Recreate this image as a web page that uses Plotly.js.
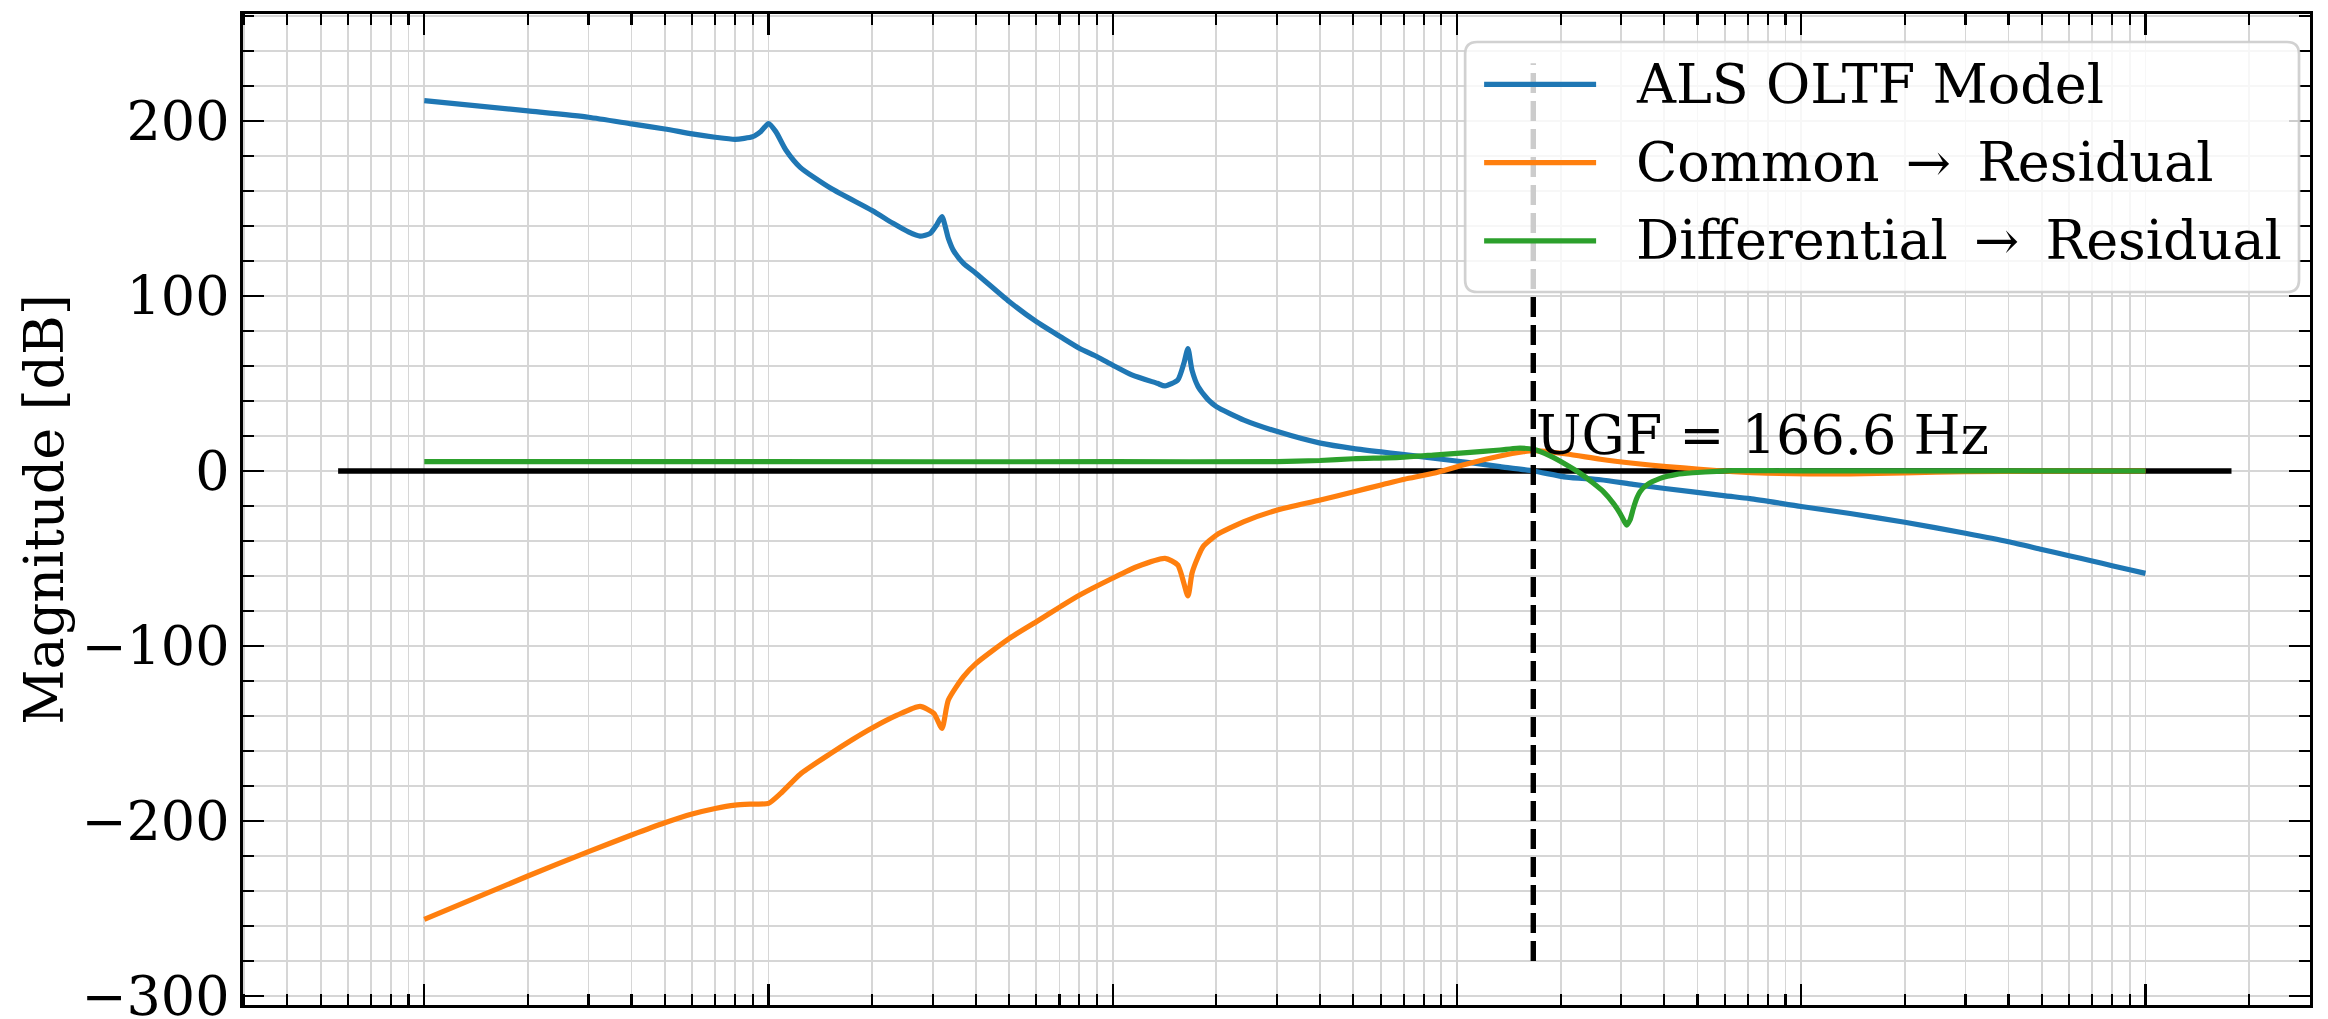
<!DOCTYPE html>
<html>
<head>
<meta charset="utf-8">
<script src="https://cdn.plot.ly/plotly-3.0.1.min.js"></script>
<style>html,body{margin:0;padding:0;background:#fff;} #chart{width:2328px;height:1019px;}</style>
</head>
<body>
<div id="chart"></div>
<script>
// ---------------- data ----------------
const seriesNames = ["ALS OLTF Model", "Common\u2006 \u2192 \u2006Residual", "Differential\u2006 \u2192 \u2006Residual"];

const oltfFreq = [0.1, 0.2, 0.3, 0.4, 0.5, 0.6, 0.7, 0.8, 0.9, 0.95, 1.0, 1.05, 1.123, 1.236, 1.517,
  2.0, 2.3, 2.55, 2.756, 2.95, 3.08, 3.19, 3.33, 3.44, 3.685, 4.01, 5.01, 6.0, 7.05, 8.02, 9.01, 9.98,
  11.36, 13.46, 14.18, 15.45, 16.09, 16.54, 16.99, 17.7, 18.95, 20.0, 24.06, 30.1, 40.1, 50.2,
  60.2, 68.3, 85.4, 106.8, 133.4, 166.6, 208, 261, 325, 402, 603, 710, 1000, 1387, 2000, 3000,
  4000, 5000, 6000, 7000, 8000, 9000, 10000];
const oltfDb = [211.6, 205.7, 202.1, 198.3, 195.4, 192.6, 190.7, 189.5, 191.0, 194.0, 198.5, 193.9, 183.4, 173.5, 161.5,
  148.8, 141.5, 136.6, 134.2, 135.8, 140.6, 145.3, 132.9, 126.2, 118.6, 112.9, 96.7, 85.3, 76.7, 70.0, 65.3, 60.6,
  54.9, 50.1, 48.6, 52.0, 61.5, 70.0, 57.6, 48.2, 40.6, 36.8, 29.1, 22.5, 15.9, 12.8,
  10.9, 9.7, 7.3, 5.0, 2.5, 0.0, -3.5, -5.0, -7.6, -10.0, -14.2, -15.8, -20.3, -24.3, -29.3, -35.6,
  -40.4, -44.8, -48.4, -51.4, -54.1, -56.4, -58.5];

const commonFreq = [0.1, 0.2, 0.3, 0.4, 0.5, 0.6, 0.7, 0.8, 0.9, 1.0, 1.085, 1.236, 1.517, 1.75, 2.0, 2.363,
  2.756, 3.022, 3.19, 3.33, 3.685, 4.01, 5.01, 6.0, 7.05, 8.02, 9.98, 11.75, 14.18, 15.45, 16.54,
  16.99, 17.7, 18.3, 20.0, 24.06, 30.1, 40.1, 50.2, 60.2, 70.3, 85.4, 106.8, 133.4, 156, 166.6,
  208, 261, 325, 406, 508, 635, 794, 1387, 2000, 3000, 5000, 10000];
const commonDb = [-256.2, -231.4, -217.5, -208.0, -201.0, -196.0, -192.8, -190.9, -190.3, -189.9, -184.2, -173.2, -161.3, -153.5, -146.8, -139.5,
  -134.5, -138.5, -147.1, -130.9, -117.5, -109.9, -95.6, -86.1, -77.5, -70.9, -61.3, -54.7, -49.9, -53.7, -71.4,
  -58.4, -49.0, -43.2, -36.6, -28.9, -22.3, -16.6, -11.8, -8.0, -4.7, -1.3, 4.0, 8.6, 11.0, 11.6,
  9.7, 6.7, 4.4, 2.5, 1.0, -0.4, -1.3, -1.7, -1.1, -0.4, -0.1, 0.0];

const diffFreq = [0.1, 1, 10, 30, 40, 50, 68.3, 85.4, 106.8, 133.4, 149.2, 166.7, 186.4, 208.4, 227.8,
  249, 266.2, 284.6, 297.6, 307.7, 311.2, 318.2, 325.4, 332.8, 340.3, 355.7, 389, 434.8, 486.1,
  568.2, 635.3, 1000, 10000];
const diffDb = [5.3, 5.3, 5.3, 5.4, 6.0, 7.0, 7.8, 9.1, 10.5, 12.0, 13.0, 12.4, 8.6, 3.4, -1.3,
  -7.0, -11.8, -18.5, -24.2, -29.5, -30.9, -28.0, -21.3, -15.6, -11.8, -8.0, -4.2, -1.9, -1.0,
  -0.2, 0.2, 0.1, 0.0];

const zeroLineFreq = [0.0562, 17780];
const zeroLineDb = [0, 0];

const ugfFreq = 166.6;
const ugfLineDb = [-280, 233];
const ugfLabel = "UGF = 166.6 Hz";

const yTitle = "Magnitude [dB]";

// ---------------- styling / layout ----------------
const W = 2328, H = 1019;
const M = {l: 242.7, r: 18, t: 14, b: 14};
const pw = W - M.l - M.r, ph = H - M.t - M.b;
const px = X => (X - M.l) / pw;
const py = Y => (H - M.b - Y) / ph;

const FONT = "DejaVu Serif";
const FS = 54;
const colors = ["#1f77b4", "#ff7f0e", "#2ca02c"];
const LW = 5.2;

const curve = (color) => ({color: color, width: LW, shape: "spline", smoothing: 0.6});

const traces = [
  {x: zeroLineFreq, y: zeroLineDb, mode: "lines", line: {color: "black", width: 5.6}, showlegend: false, hoverinfo: "skip"},
  {x: oltfFreq, y: oltfDb, name: seriesNames[0], mode: "lines", line: curve(colors[0]), showlegend: false},
  {x: commonFreq, y: commonDb, name: seriesNames[1], mode: "lines", line: curve(colors[1]), showlegend: false},
  {x: diffFreq, y: diffDb, name: seriesNames[2], mode: "lines", line: curve(colors[2]), showlegend: false},
  {x: [ugfFreq, ugfFreq], y: ugfLineDb, mode: "lines", line: {color: "black", width: 5.4, dash: "20px,8px"}, showlegend: false, hoverinfo: "skip"}
];

const gridColor = "#d6d6d6";
const axisCommon = {
  showline: true, linecolor: "black", linewidth: 2.6, mirror: "allticks",
  ticks: "inside", ticklen: 21, tickwidth: 2.2, tickcolor: "black",
  showgrid: true, gridcolor: gridColor, gridwidth: 1.8, zeroline: false,
  tickfont: {family: FONT, size: FS, color: "black"}
};

// legend drawn by hand (box, sample lines, labels)
const lg = {x0: 1465, x1: 2299, y0: 42, y1: 292, r: 12};
const lx0 = px(lg.x0), lx1 = px(lg.x1), lyT = py(lg.y0), lyB = py(lg.y1);
const rx = lg.r / pw, ry = lg.r / ph;
const boxPath = `M ${lx0 + rx},${lyT} L ${lx1 - rx},${lyT} Q ${lx1},${lyT} ${lx1},${lyT - ry} ` +
  `L ${lx1},${lyB + ry} Q ${lx1},${lyB} ${lx1 - rx},${lyB} L ${lx0 + rx},${lyB} Q ${lx0},${lyB} ${lx0},${lyB + ry} ` +
  `L ${lx0},${lyT - ry} Q ${lx0},${lyT} ${lx0 + rx},${lyT} Z`;
const rowY = [84.3, 162.6, 240.8];

const shapes = [
  {type: "path", xref: "paper", yref: "paper", path: boxPath, layer: "above",
   fillcolor: "rgba(255,255,255,0.8)", line: {color: "rgba(204,204,204,0.9)", width: 2.7}}
];
rowY.forEach((Y, i) => {
  shapes.push({type: "line", xref: "paper", yref: "paper", layer: "above",
    x0: px(1484), x1: px(1596), y0: py(Y), y1: py(Y), line: {color: colors[i], width: LW}});
});

const annotations = rowY.map((Y, i) => ({
  xref: "paper", yref: "paper", x: px(1634), y: py(Y), xanchor: "left", yanchor: "middle",
  text: seriesNames[i], showarrow: false, font: {family: FONT, size: FS, color: "black"}
}));
annotations.push({
  xref: "x", yref: "y", x: Math.log10(ugfFreq), y: 9.1, xanchor: "left", yanchor: "bottom", yshift: -14, xshift: 1,
  text: ugfLabel, showarrow: false, font: {family: FONT, size: FS, color: "black"}
});

const layout = {
  width: W, height: H, margin: M, paper_bgcolor: "white", plot_bgcolor: "white",
  showlegend: false,
  font: {family: FONT, size: FS, color: "black"},
  xaxis: Object.assign({}, axisCommon, {
    type: "log", range: [-1.5266, 4.478], dtick: 1, showticklabels: false,
    minor: {dtick: "D1", ticks: "inside", ticklen: 11, tickwidth: 2.2, tickcolor: "black",
            showgrid: true, gridcolor: gridColor, gridwidth: 1.8}
  }),
  yaxis: Object.assign({}, axisCommon, {
    range: [-305.1, 261.1], tick0: 0, dtick: 100, automargin: false, ticklabeloverflow: "allow",
    title: {text: yTitle, font: {family: FONT, size: FS, color: "black"}, standoff: 1},
    minor: {dtick: 20, tick0: 0, ticks: "inside", ticklen: 11, tickwidth: 2.2, tickcolor: "black",
            showgrid: true, gridcolor: gridColor, gridwidth: 1.8}
  }),
  shapes: shapes,
  annotations: annotations
};

Plotly.newPlot("chart", traces, layout, {displayModeBar: false, staticPlot: true});
</script>
</body>
</html>
